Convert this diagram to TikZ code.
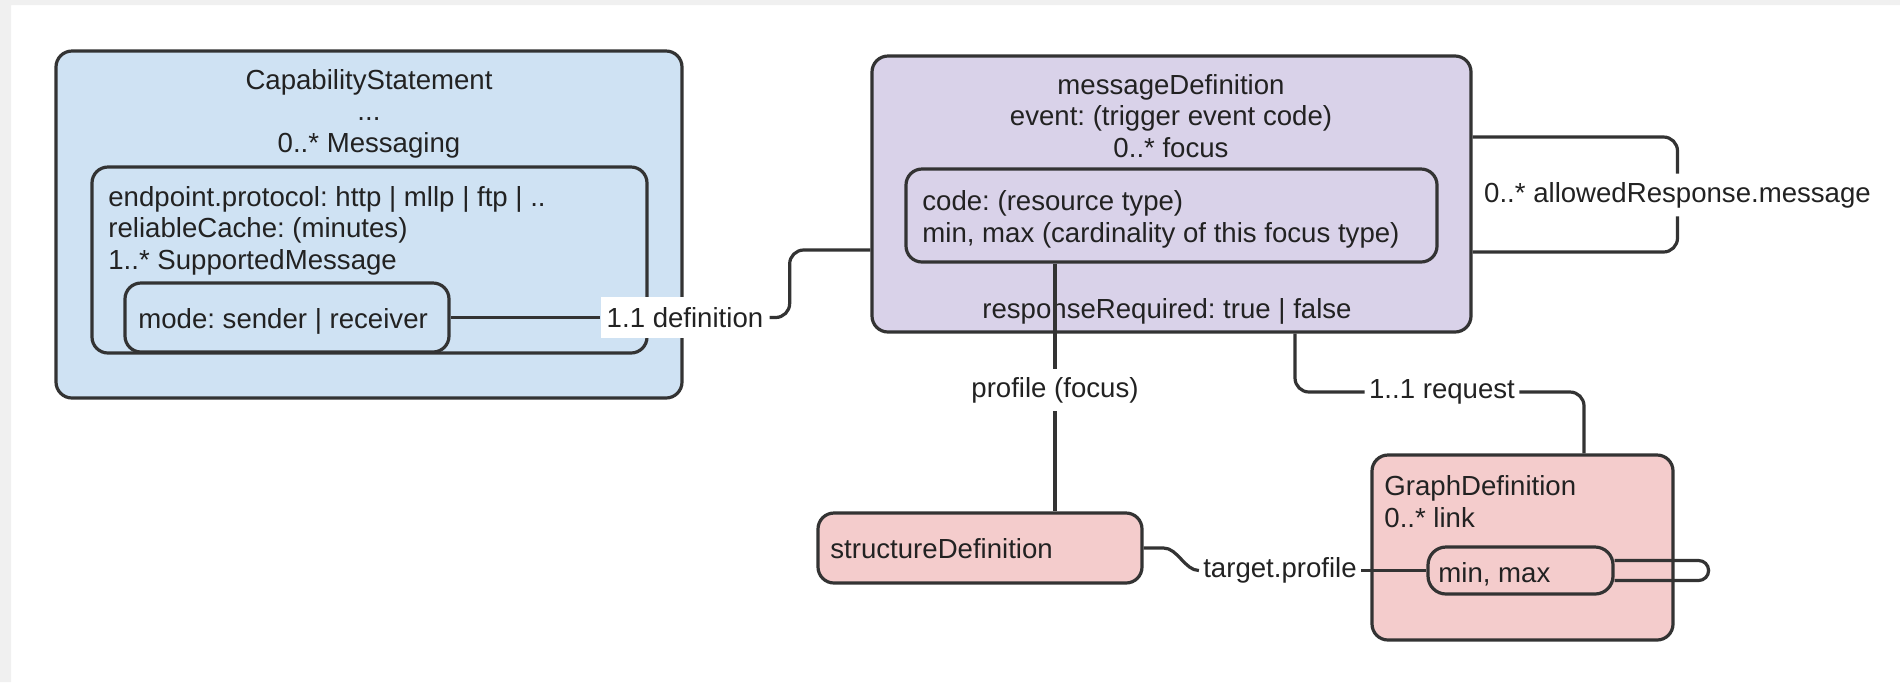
\documentclass[tikz,border=0pt]{standalone}
\usepackage{fontspec}
\setmainfont{Liberation Sans}
\frenchspacing
\definecolor{capblue}{HTML}{CFE2F3}
\definecolor{defpurple}{HTML}{D9D2E9}
\definecolor{refpink}{HTML}{F4CCCC}
\definecolor{edgegrey}{HTML}{333333}
\definecolor{inkgrey}{HTML}{222222}
\definecolor{framegrey}{HTML}{F0F0F0}
\tikzset{
  box/.style={draw=edgegrey, line width=1.6pt, rounded corners=8pt, inner sep=0pt},
  txt/.style={inner sep=0pt, text=inkgrey, font=\fontsize{13.8}{15.6}\selectfont},
  lbl/.style={txt, inner xsep=2pt, inner ysep=4pt},
  link/.style={draw=edgegrey, line width=1.6pt, rounded corners=7pt}
}

\begin{document}
\begin{tikzpicture}[x=0.5pt,y=-0.5pt]
\fill[white] (0,0) rectangle (1900,682);
\fill[framegrey] (0,0) rectangle (11,682) (0,0) rectangle (1900,5);
\useasboundingbox (0,0) rectangle (1900,682);

\node[box, fill=capblue, minimum width=313pt, minimum height=173.5pt] (cap) at (369,224.5) {};
\node[box, minimum width=277.5pt, minimum height=93pt] (msg) at (369.5,260) {};
\node[box, minimum width=162pt, minimum height=34.5pt] (mode) at (287,317.5) {};
\node[txt, align=center, anchor=base] (capt) at (369,152) {CapabilityStatement\\...\\0..* Messaging};
\node[txt, align=left, anchor=base west] (msgt) at (108,269) {endpoint.protocol: http | mllp | ftp | ..\\reliableCache: (minutes)\\1..* SupportedMessage};
\node[txt, anchor=base west] (modet) at (138,328) {mode: sender | receiver};

\node[box, fill=defpurple, minimum width=299.5pt, minimum height=138pt] (mdef) at (1171.5,194) {};
\node[box, minimum width=265.5pt, minimum height=46.5pt] (focus) at (1171.5,215.5) {};
\node[txt, align=center, anchor=base] (mdeft) at (1171,157) {messageDefinition\\event: (trigger event code)\\0..* focus};
\node[txt, align=left, anchor=base west] (focust) at (922,242) {code: (resource type)\\min, max (cardinality of this focus type)};
\node[txt, anchor=base] (resp) at (1167,318) {responseRequired: true | false};

\node[box, fill=refpink, minimum width=162pt, minimum height=35pt] (sdef) at (980,548) {};
\node[txt, anchor=base west] (sdeft) at (830,558) {structureDefinition};
\node[box, fill=refpink, minimum width=150.5pt, minimum height=92.5pt] (gdef) at (1522.5,547.5) {};
\node[txt, align=left, anchor=base west] (gdeft) at (1384,527) {GraphDefinition\\0..* link};
\node[box, rounded corners=9pt, minimum width=92.5pt, minimum height=23.5pt] (minmax) at (1520.5,570.5) {};
\node[txt, anchor=base west] (minmaxt) at (1438,582) {min, max};

\node[lbl, fill=white, inner xsep=3pt, inner ysep=5pt] (deflbl) at (685,317.5) {1.1 definition};
\node[lbl] (proflbl) at (1055,390) {profile (focus)};
\node[lbl] (reqlbl) at (1442,392) {1..1 request};
\node[lbl] (tgtlbl) at (1280,570.5) {target.profile};
\node[lbl, fill=white] (arlbl) at (1677.5,195) {0..* allowedResponse.message};

\draw[link] (mode.east) -- (deflbl.west);
\draw[link] (deflbl.east) -- ++(20,0) |- ([yshift=-28pt]mdef.west);
\draw[link] (focus.south -| proflbl.north) -- (proflbl.north);
\draw[link] (proflbl.south) -- (proflbl.south |- sdef.north);
\draw[link] ([xshift=61.75pt]mdef.south) |- (reqlbl.west);
\draw[link] (reqlbl.east) -| ([xshift=30.75pt]gdef.north);
\draw[link, sharp corners] (sdef.east) -- ++(20,0) .. controls +(14,0) and +(-14,0) .. (tgtlbl.west);
\draw[link] (tgtlbl.east) -- (minmax.west);
\draw[link] ([yshift=28.5pt]mdef.east) -| (arlbl.north);
\draw[link] (arlbl.south) |- ([yshift=-29pt]mdef.east);
\draw[link, sharp corners] ([yshift=5pt]minmax.east) -- ++(84,0) arc[start angle=90, end angle=-90, radius=5pt] -- ([yshift=-5pt]minmax.east);
\end{tikzpicture}
\end{document}
